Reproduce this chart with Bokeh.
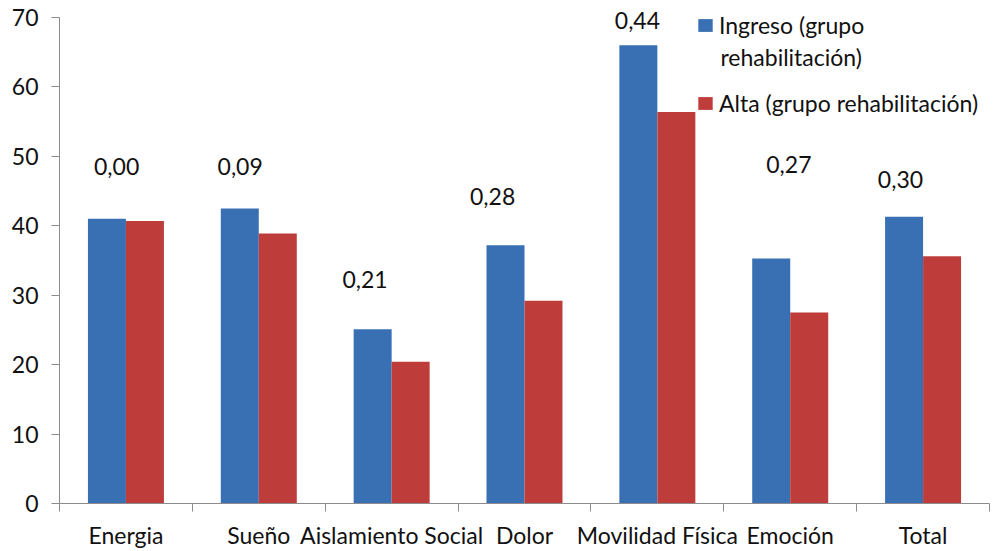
from bokeh.plotting import figure
from bokeh.models import (ColumnDataSource, FixedTicker, Range1d, Legend,
                          LegendItem, LabelSet, Label)
from bokeh.core.properties import value
from bokeh.embed import file_html
from bokeh.resources import INLINE

# Dimensiones del cuestionario de salud (puntuaciones medias)
categorias = ["Energia", "Sueño", "Aislamiento Social", "Dolor",
              "Movilidad Física", "Emoción", "Total"]
ingreso = [41.0, 42.5, 25.1, 37.2, 66.0, 35.3, 41.3]
alta = [40.7, 38.9, 20.4, 29.2, 56.4, 27.5, 35.6]

# Tamaño del efecto por dimensión
efecto = ["0,00", "0,09", "0,21", "0,28", "0,44", "0,27", "0,30"]
efecto_x = [0.43, 1.36, 2.30, 3.26, 4.35, 5.49, 6.33]
efecto_y = [48.5, 48.5, 32.3, 44.2, 69.6, 48.8, 46.6]

FONT = "Lato"
FS = "23px"
AZUL = "#3870B3"
ROJO = "#BE3D3A"
GRIS = "#8C8C8C"
TEXTO = "#111111"

n = len(categorias)
centros = [i + 0.5 for i in range(n)]
ancho = 0.286

src = ColumnDataSource(dict(
    xi=[c - ancho / 2 for c in centros],
    xa=[c + ancho / 2 for c in centros],
    ingreso=ingreso,
    alta=alta,
))
src_ef = ColumnDataSource(dict(x=efecto_x, y=efecto_y, t=efecto))

# El eje llega a 70; el marco deja algo de aire arriba para las etiquetas
p = figure(width=1000, height=551, output_backend="svg", toolbar_location=None,
           x_range=Range1d(0, n), y_range=Range1d(0, 71.72),
           min_border_left=59, min_border_right=11,
           min_border_top=5, min_border_bottom=46)
p.outline_line_color = None
p.background_fill_color = "white"
p.border_fill_color = "white"
p.xgrid.visible = False
p.ygrid.visible = False

r1 = p.vbar(x="xi", top="ingreso", width=ancho, bottom=0, source=src,
            fill_color=AZUL, line_color=None)
r2 = p.vbar(x="xa", top="alta", width=ancho, bottom=0, source=src,
            fill_color=ROJO, line_color=None)

etiquetas = LabelSet(x="x", y="y", text="t", source=src_ef,
                     text_align="center", text_baseline="middle",
                     text_font=value(FONT), text_font_size=value(FS),
                     text_color=value(TEXTO))
p.add_layout(etiquetas)

# Eje Y
p.yaxis.ticker = FixedTicker(ticks=list(range(0, 71, 10)))
p.yaxis.bounds = (0, 70)
p.yaxis.axis_line_color = GRIS
p.yaxis.major_tick_line_color = GRIS
p.yaxis.major_tick_out = 8
p.yaxis.major_tick_in = 0
p.yaxis.minor_tick_line_color = None
p.yaxis.major_label_standoff = 13
p.yaxis.major_label_text_font = FONT
p.yaxis.major_label_text_font_size = FS
p.yaxis.major_label_text_color = TEXTO

# Eje X: etiquetas en el centro, marcas entre categorías
p.xaxis.ticker = FixedTicker(ticks=centros, minor_ticks=list(range(0, n + 1)))
p.xaxis.major_label_overrides = {c: lab for c, lab in zip(centros, categorias)}
p.xaxis.axis_line_color = GRIS
p.xaxis.major_tick_line_color = None
p.xaxis.minor_tick_line_color = GRIS
p.xaxis.minor_tick_out = 8
p.xaxis.minor_tick_in = 0
p.xaxis.major_label_standoff = 9
p.xaxis.major_label_text_font = FONT
p.xaxis.major_label_text_font_size = FS
p.xaxis.major_label_text_color = TEXTO

# Leyenda: la primera entrada ocupa dos líneas
legend = Legend(items=[
    LegendItem(label="Ingreso (grupo", renderers=[r1]),
    LegendItem(label="Alta (grupo rehabilitación)", renderers=[r2]),
], location=(637, 386))
legend.background_fill_alpha = 0
legend.border_line_color = None
legend.label_text_font = FONT
legend.label_text_font_size = FS
legend.label_text_color = TEXTO
legend.label_standoff = 5
legend.glyph_width = 18
legend.glyph_height = 16
legend.spacing = 50
legend.padding = 0
legend.margin = 0
p.add_layout(legend)

p.add_layout(Label(x=4.975, y=64.3, text="rehabilitación)", text_font=FONT,
                   text_font_size=FS, text_color=TEXTO,
                   text_baseline="middle", text_align="left"))

open("out.html", "w").write(file_html(p, INLINE))
